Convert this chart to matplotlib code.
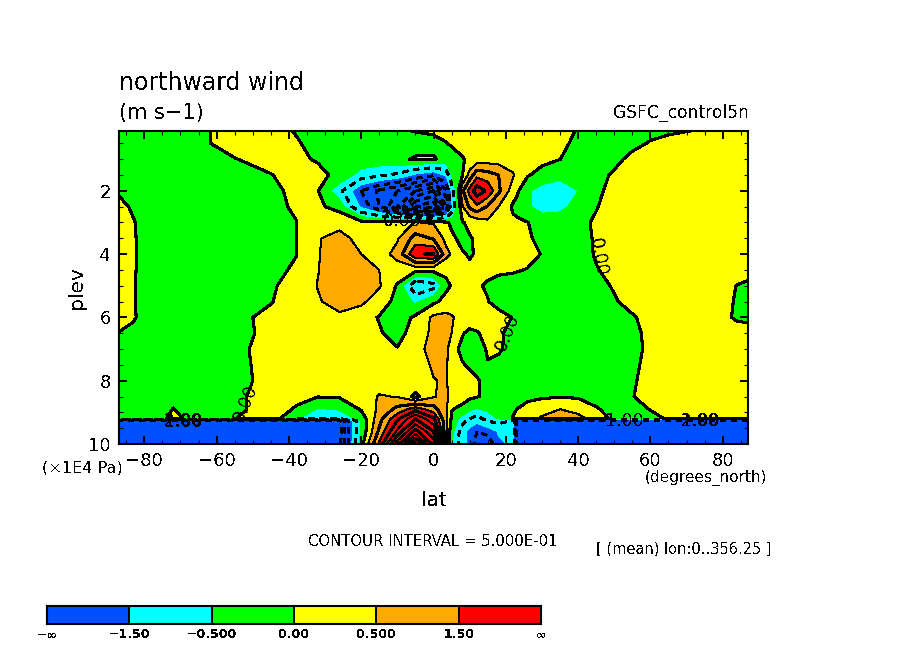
import numpy as np
import matplotlib
matplotlib.use("Agg")
import matplotlib.pyplot as plt
from matplotlib.colors import ListedColormap
from matplotlib.ticker import MultipleLocator

plt.rcParams["font.family"] = ["DejaVu Sans"]
plt.rcParams["text.antialiased"] = False
plt.rcParams["lines.scale_dashes"] = False

W, H = 904, 654

lats = [-87, -83, -75, -72, -69, -65, -55, -45, -38, -32, -26, -20, -15, -10, -5, 0, 3.5, 5, 8, 10, 12, 15, 18,
        22, 23, 26, 30, 35, 40, 45, 50, 55, 60, 65, 72, 80, 84, 87]
plevs = [0.1, 0.5, 1, 1.5, 2, 2.5, 3, 3.5, 4, 4.5, 5, 5.5, 6, 6.5, 7, 8, 8.5, 8.9, 9.2, 9.25, 9.6, 10]

p0_1 = [-.15, -.15, -.15, -.15, -.12, -.05, .1, .1, -.02, -.1, -.15, -.15, -.1, -.05, .02, .05, .08, .08, .1, .1, .1, .1, .1,
        .1, .1, .1, .1, .05, -.01, -.1, -.1, -.1, -.1, -.05, .005, .05, .05, .05]
p0_5 = [-.2, -.2, -.2, -.2, -.15, -.05, .1, .15, .03, -.1, -.2, -.2, -.2, -.2, -.2, -.1, -.01, .05, .15, .18, .2, .2, .2,
        .2, .2, .2, .2, .1, -.1, -.2, -.2, -.1, .03, .1, .15, .2, .2, .2]
p1_0 = [-.2, -.2, -.2, -.2, -.2, -.15, -.01, .1, .1, -.05, -.2, -.2, -.2, -.1, .05, .03, -.1, -.2, -.03, .08, .2, .25, .25,
        .25, .25, .2, .15, .005, -.2, -.2, -.1, .1, .2, .25, .25, .25, .25, .25]
p1_5 = [-.2, -.2, -.25, -.25, -.25, -.2, -.1, -.01, .1, .15, -.15, -.7, -.9, -1.1, -1.6, -1.9, -1.4, -.5, -.02, .7, 1.35, 1.2, 1.0,
        .55, .4, .05, -.2, -.3, -.25, -.12, .05, .2, .25, .3, .3, .3, .3, .3]
p2_0 = [-.05, -.15, -.25, -.25, -.25, -.25, -.2, -.1, .1, .02, -.85, -2, -2.6, -3, -3.5, -4, -2.6, -1.4, .9, 1.7, 2.3, 1.9, 1.1,
        .25, .1, -.42, -.7, -.9, -.5, -.1, .15, .3, .35, .4, .4, .4, .4, .4]
p2_5 = [.1, -.05, -.3, -.3, -.3, -.3, -.25, -.1, .05, .1, -.2, -1.6, -2.5, -3.5, -5, -5.5, -3.5, -1.5, .45, 1.1, 1.4, .95, .5,
        -.08, -.15, -.4, -.75, -.65, -.3, -.02, .15, .3, .4, .4, .4, .4, .4, .4]
p3_0 = [.15, .02, -.3, -.3, -.3, -.3, -.25, -.1, -.01, .4, .4, .15, .1, .25, .52, .45, .08, -.1, -.03, .1, .2, .4, .3,
        .1, .08, .01, -.15, -.2, -.1, .05, .2, .3, .4, .45, .45, .45, .4, .4]
p3_5 = [.2, .03, -.3, -.3, -.3, -.3, -.25, -.1, -.01, .48, .6, .4, .25, .45, 1.2, .95, .35, .1, -.15, -.03, .05, .1, .1,
        .1, .1, .05, -.1, -.2, -.1, .03, .2, .3, .4, .45, .45, .45, .4, .4]
p4_0 = [.2, .03, -.3, -.3, -.3, -.3, -.25, -.1, -.01, .48, .7, .5, .3, .65, 1.95, 2.05, .65, .45, .05, -.05, .05, .1, .1,
        .1, .11, .15, -.02, -.2, -.15, .03, .2, .3, .4, .45, .45, .45, .4, .3]
p4_5 = [.2, .03, -.3, -.3, -.3, -.3, -.25, -.1, .05, .48, .8, .7, .5, .3, .15, .15, .1, .1, .1, .1, .1, .1, .1,
        .05, .03, -.02, -.2, -.25, -.2, -.02, .1, .25, .35, .4, .4, .3, .15, .1]
p5_0 = [.2, .02, -.3, -.3, -.3, -.3, -.25, -.05, .15, .52, .75, .65, .55, -.05, -1.5, -1.2, -.1, .03, .1, .1, .05, -.05, -.2,
        -.2, -.2, -.2, -.3, -.3, -.25, -.1, .03, .15, .3, .35, .3, .1, -.01, -.05]
p5_5 = [.15, .02, -.25, -.25, -.25, -.25, -.2, -.02, .2, .45, .7, .6, .25, -.15, -.6, -.1, .15, .2, .2, .15, .1, .02, -.2,
        -.2, -.22, -.25, -.3, -.3, -.3, -.2, -.03, .1, .25, .3, .25, .08, -.03, -.1]
p6_0 = [.2, .02, -.2, -.2, -.2, -.2, -.1, .1, .25, .3, .4, .2, -.03, -.3, .1, .6, .65, .55, .3, .25, .2, .15, .2,
        -.02, -.06, -.2, -.3, -.3, -.3, -.3, -.15, -.03, .1, .25, .25, .08, -.05, -.05]
p6_5 = [-.02, -.05, -.2, -.2, -.2, -.2, -.15, .12, .3, .3, .3, .2, .05, -.2, .25, .6, .65, .5, .03, -.1, -.03, .1, .05,
        -.1, -.14, -.25, -.3, -.3, -.3, -.3, -.25, -.1, .1, .25, .25, .25, .15, .1]
p7_0 = [-.1, -.1, -.2, -.2, -.2, -.2, -.1, .15, .3, .3, .3, .15, .05, .03, .35, .65, .65, .15, -.1, -.2, -.2, .05, .04,
        -.1, -.14, -.25, -.3, -.3, -.3, -.3, -.3, -.2, .15, .25, .3, .3, .3, .3]
p8_0 = [-.15, -.15, -.2, -.2, -.2, -.2, -.1, .1, .2, .2, .2, .2, .2, .3, .4, .48, .55, .2, .15, .1, .03, -.1, -.2,
        -.25, -.26, -.3, -.3, -.3, -.3, -.3, -.3, -.1, .3, .3, .3, .3, .3, .3]
p8_5 = [-.2, -.2, -.2, -.2, -.2, -.2, -.05, .1, .05, .02, .05, .2, .55, .47, -.15, .45, .7, .2, .15, .1, .03, -.1, -.15,
        -.15, -.14, -.1, -.05, -.03, -.05, -.2, -.2, -.02, .2, .3, .3, .3, .3, .3]
p8_9 = [-.2, -.2, -.2, .02, -.15, -.2, -.05, .1, -.02, -.55, -.45, .05, .6, 1.15, 1.8, 1.2, .55, .02, -.1, -.4, -.55, -.4, -.2,
        -.05, 0, .15, .25, .5, .3, .05, -.2, -.2, .02, .1, .2, .25, .25, .25]
p9_2 = [-.2, -.2, -.1, .15, -.02, -.15, -.01, .25, -.45, -.8, -.9, -.3, .8, 1.9, 3, 2.1, .55, -.05, -.7, -1, -1.2, -.8, -.45,
        .02, .08, .25, .6, .95, .7, .25, -.1, -.2, -.15, .05, .2, .25, .25, .25]
p9_25 = [-3.2] * 11 + [-.35, .85, 2, 3.1, 2.2, .6, -.1, -.8, -1.1, -1.3, -.95, -.8, -1] + [-3.2] * 14
p9_6 = [-3.2] * 11 + [-.4, 1.1, 2.6, 4.2, 3, .6, -.3, -1.3, -1.7, -2, -1.8, -1.45, -1.2] + [-3.2] * 14
p10_0 = [-3.2] * 11 + [-.2, 1.6, 3.8, 5.7, 3.8, .6, -.5, -1.3, -1.7, -2.2, -2.4, -1.6, -1.4] + [-3.2] * 14

wind = np.array([p0_1, p0_5, p1_0, p1_5, p2_0, p2_5, p3_0, p3_5, p4_0, p4_5, p5_0, p5_5, p6_0, p6_5, p7_0, p8_0, p8_5,
                 p8_9, p9_2, p9_25, p9_6, p10_0])

fill_levels = [-100, -1.5, -0.5, 0, 0.5, 1.5, 100]
fill_colors = ["#0050ff", "#00ffff", "#00ff00", "#ffff00", "#ffaa00", "#ff0000"]
neg_levels = [-5.5, -5, -4.5, -4, -3.5, -3, -2.5, -2, -1]
thick_levels = [0, 1, 2, 3, 4, 5]
thin_levels = [0.5, 1.5, 2.5, 3.5, 4.5, 5.5]

cb_labels = ["\u2212\u221e", "\u22121.50", "\u22120.500", "0.00", "0.500", "1.50", "\u221e"]
cb_px = [47, 129, 212, 294, 376, 459, 541]

# contour labels drawn over the lines: text, x px, y px, rotation
line_labels = [("0.00", 402, 221, 0), ("0.00", 245, 403, 68), ("0.00", 598, 257, -80), ("0.00", 507, 332, 68),
               ("1.00", 624, 421, 0), ("1.00", 700, 421, 0), ("2.00", 700, 421, 0),
               ("1.00", 183, 421, 0), ("2.00", 183, 421, 0), ("1.00", 183, 422, 0)]


def ptext(x, y, s, size=12, ha="left", va="center", **kw):
    return fig.text(x / W, 1 - y / H, s, fontsize=size, ha=ha, va=va, color="black", **kw)


def px_axes(x0, y0, x1, y1):
    return fig.add_axes([x0 / W, 1 - y1 / H, (x1 - x0) / W, (y1 - y0) / H])


fig = plt.figure(figsize=(W / 100, H / 100), dpi=100)
ax = px_axes(119, 131, 748, 444)

ax.contourf(lats, plevs, wind, levels=fill_levels, colors=fill_colors, antialiased=False)
ax.contour(lats, plevs, wind, levels=neg_levels, colors="black", linewidths=1.5, linestyles=[(0, (4.3, 3.6))],
           antialiased=False)
ax.contour(lats, plevs, wind, levels=thick_levels, colors="black", linewidths=1.5, linestyles="solid", antialiased=False)
ax.contour(lats, plevs, wind, levels=thin_levels, colors="black", linewidths=0.75, linestyles="solid", antialiased=False)

ax.set_xlim(-87, 87)
ax.set_ylim(10, 0.11)
ax.xaxis.set_major_locator(MultipleLocator(20))
ax.xaxis.set_minor_locator(MultipleLocator(5))
ax.yaxis.set_major_locator(MultipleLocator(2))
ax.yaxis.set_minor_locator(MultipleLocator(0.5))
ax.tick_params(which="major", direction="in", length=5.5, width=1.4, top=True, right=True, labelsize=13, pad=6)
ax.tick_params(which="minor", direction="in", length=3, width=0.8, top=True, right=True)
for s in ax.spines.values():
    s.set_linewidth(1.5)

ptext(119, 83, "northward wind", size=17)
ptext(119, 113, "(m s\u22121)", size=15)
ptext(749, 113, "GSFC_control5n", size=12.3, ha="right")
ptext(42, 468, "(\u00d71E4 Pa)", size=11.6)
ptext(645, 478, "(degrees_north)", size=11)
ptext(434, 501, "lat", size=14.5, ha="center")
ptext(77, 288, "plev", size=14.5, ha="center", rotation=90)
ptext(308, 541, "CONTOUR INTERVAL = 5.000E-01", size=10.7)
ptext(596, 549, "[ (mean) lon:0..356.25 ]", size=10.5)

for txt, x, y, rot in line_labels:
    ptext(x, y, txt, size=12.5, ha="center", rotation=rot)

cax = px_axes(47, 606, 541, 624)
cax.pcolormesh([list(range(len(fill_colors)))], cmap=ListedColormap(fill_colors), edgecolors="black", linewidth=1.4)
cax.set_xticks([])
cax.set_yticks([])
for s in cax.spines.values():
    s.set_linewidth(1.5)
for lab, x in zip(cb_labels, cb_px):
    ptext(x, 635, lab, size=9, ha="center", fontweight="bold")

fig.savefig("out.png", dpi=100)
